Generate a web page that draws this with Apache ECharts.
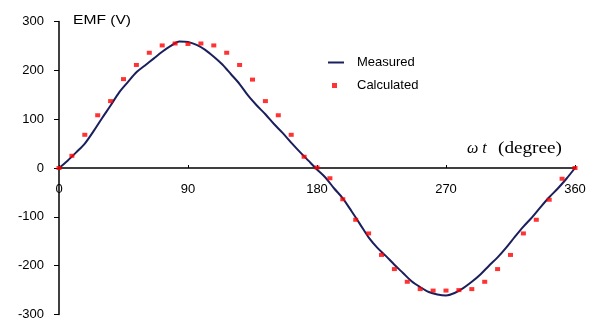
<!DOCTYPE html>
<html>
<head>
<meta charset="utf-8">
<script src="https://cdn.jsdelivr.net/npm/echarts@6/dist/echarts.min.js"></script>
<style>
html,body{margin:0;padding:0;background:#fff;}
#chart{width:590px;height:320px;}
</style>
</head>
<body>
<div id="chart"></div>
<script>
// Measured EMF (line)
var measuredDeg = [0,6,12,18,24,30,36,42,48,54,60,66,72,78,84,90,96,102,108,114,120,126,132,138,144,150,156,162,168,174,180,186,192,198,204,210,216,222,228,234,240,246,252,258,264,270,276,282,288,294,300,306,312,318,324,330,336,342,348,354,360];
var measuredEmf = [0,15,32,50,75,102,128,155,176,196,210,224,238,250,259,258,252,242,228,212,192,172,148,128,110,90,72,52,33,15,-3,-20,-42,-62,-88,-115,-142,-163,-180,-198,-215,-232,-244,-254,-259,-261,-256,-246,-233,-218,-200,-183,-163,-141,-120,-101,-80,-60,-42,-22,0];
// Calculated EMF (red squares)
var calcDeg = [0,9,18,27,36,45,54,63,72,81,90,99,108,117,126,135,144,153,162,171,180,189,198,207,216,225,234,243,252,261,270,279,288,297,306,315,324,333,342,351,360];
var calcEmf = [0,25,68,108,137,182,211,236,251,255,254,255,251,236,211,181,137,108,68,23,1,-21,-64,-106,-134,-178,-207,-233,-248,-251,-251,-250,-248,-233,-207,-178,-134,-106,-65,-22,0];
// Axis settings
var xTicks = [0,90,180,270,360];
var yTicks = [-300,-200,-100,0,100,200,300];

function pairs(xs, ys){ var out=[]; for(var i=0;i<xs.length;i++){ out.push([xs[i], ys[i]]); } return out; }

var W = 590, H = 320;
var gridTop = 21.5, gridBottom = 5.5;
// x axis drawn through y = 0 (middle of the symmetric y range)
var xAxisOffset = -((H - gridTop - gridBottom) / 2);

var chart = echarts.init(document.getElementById('chart'), null, {renderer:'canvas', width:W, height:H});
var font = 'Liberation Sans';
chart.setOption({
  animation:false,
  backgroundColor:'#fff',
  grid:{left:59,right:15,top:gridTop,bottom:gridBottom,containLabel:false,outerBoundsMode:'none'},
  xAxis:{
    type:'value', min:xTicks[0], max:xTicks[xTicks.length-1], interval:90,
    position:'bottom', offset:xAxisOffset,
    axisLine:{show:true,onZero:false,lineStyle:{color:'#000',width:1.5}},
    axisTick:{show:true,inside:true,length:3,lineStyle:{color:'#000',width:1}},
    axisLabel:{show:true,margin:15,fontSize:13,fontFamily:font,color:'#000'},
    splitLine:{show:false}
  },
  yAxis:{
    type:'value', min:yTicks[0], max:yTicks[yTicks.length-1], interval:100,
    axisLine:{show:true,onZero:false,lineStyle:{color:'#000',width:1.5}},
    axisTick:{show:true,inside:false,length:5,lineStyle:{color:'#000',width:1}},
    axisLabel:{show:true,margin:15,fontSize:13,fontFamily:font,color:'#000'},
    splitLine:{show:false}
  },
  legend:[
    {data:[{name:'Measured',icon:'rect'}],left:328,top:56,padding:0,orient:'vertical',itemWidth:16,itemHeight:2,
     textStyle:{fontSize:13,fontFamily:font,color:'#000',padding:[0,0,0,8]}},
    {data:[{name:'Calculated',icon:'rect'}],left:332,top:79,padding:0,orient:'vertical',itemWidth:5,itemHeight:5,
     textStyle:{fontSize:13,fontFamily:font,color:'#000',padding:[0,0,0,15]}}
  ],
  graphic:[
    {type:'text',x:73,y:20,scaleX:1.2,style:{text:'EMF (V)',fontSize:13,fontFamily:font,fill:'#000',verticalAlign:'middle'}},
    {type:'text',x:467,y:149,style:{text:'ω t',fontSize:16,fontFamily:'Liberation Serif',fontStyle:'italic',fill:'#000',verticalAlign:'middle'}},
    {type:'text',x:498,y:149,scaleX:1.2,style:{text:'(degree)',fontSize:16,fontFamily:'Liberation Serif',fill:'#000',verticalAlign:'middle'}}
  ],
  series:[
    {name:'Measured',type:'line',data:pairs(measuredDeg,measuredEmf),showSymbol:false,symbol:'none',smooth:0.3,
     lineStyle:{color:'#1b1f5c',width:2},itemStyle:{color:'#1b1f5c'},z:2},
    {name:'Calculated',type:'scatter',data:pairs(calcDeg,calcEmf),symbol:'rect',symbolSize:[5,4],
     itemStyle:{color:'#ff0000'},z:3}
  ]
});
</script>
</body>
</html>
